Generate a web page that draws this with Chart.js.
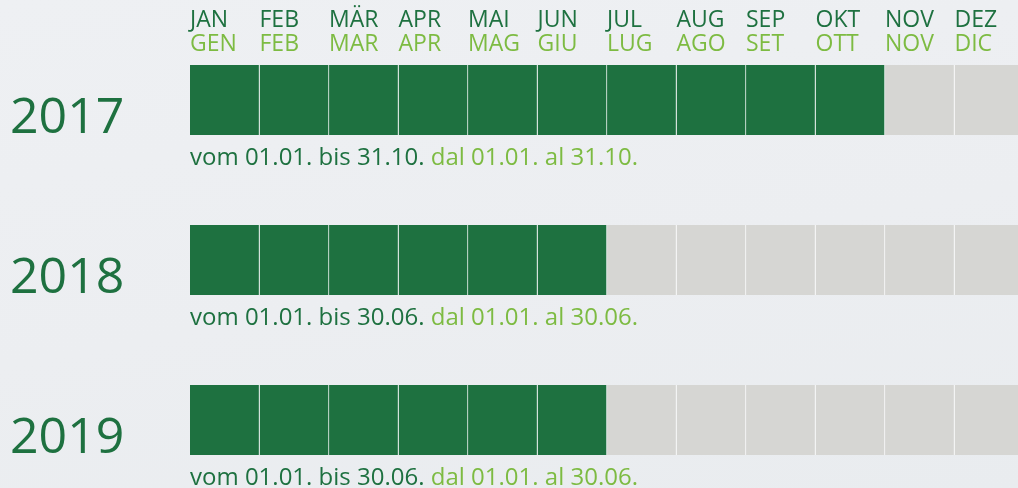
<!DOCTYPE html>
<html>
<head>
<meta charset="utf-8">
<script src="https://cdn.jsdelivr.net/npm/chart.js@4"></script>
<style>
html, body { margin:0; padding:0; width:1018px; height:488px; overflow:hidden; }
body { background: linear-gradient(170deg, #eef0f3 0%, #eceef1 55%, #e9ecef 100%); }
#wrap { width:1070px; height:488px; }
</style>
</head>
<body>
<div id="wrap"><canvas id="chart" width="1070" height="488"></canvas></div>
<script>
// ---- data ----
const years = ["2017", "2018", "2019"];
const monthsDe = ["JAN","FEB","MÄR","APR","MAI","JUN","JUL","AUG","SEP","OKT","NOV","DEZ"];
const monthsIt = ["GEN","FEB","MAR","APR","MAG","GIU","LUG","AGO","SET","OTT","NOV","DIC"];
const activeMonths = [10, 6, 6];   // months covered in each year
const rangeDe = ["vom 01.01. bis 31.10.", "vom 01.01. bis 30.06.", "vom 01.01. bis 30.06."];
const rangeIt = ["dal 01.01. al 31.10.", "dal 01.01. al 30.06.", "dal 01.01. al 30.06."];

// ---- style ----
const GREEN = "#1e7140";
const LIGHT = "#7dbb42";
const GREY = "#d6d6d3";
const FONT = "'Open Sans', sans-serif";

// one dataset per month, each cell is one month wide
const datasets = monthsDe.map((m, k) => ({
  label: m,
  data: years.map(() => 1),
  backgroundColor: years.map((y, i) => k < activeMonths[i] ? GREEN : GREY),
  borderColor: "rgba(255,255,255,0.85)",
  borderWidth: { left: 0, right: 1, top: 0, bottom: 0 },
  borderSkipped: false,
  barThickness: 70,
  clip: false,
  xAxisID: "x",
  yAxisID: "y"
}));

/* text under each row */
const rangeText = {
  id: "rangeText",
  afterDatasetsDraw(chart) {
    const { ctx, chartArea, scales: { y } } = chart;
    ctx.save();
    ctx.font = "24px " + FONT;
    ctx.textBaseline = "alphabetic";
    ctx.textAlign = "left";
    years.forEach((yr, i) => {
      const yy = y.getPixelForValue(i) + 65;
      ctx.fillStyle = GREEN;
      ctx.fillText(rangeDe[i], chartArea.left, yy);
      const w = ctx.measureText(rangeDe[i] + " ").width;
      ctx.fillStyle = LIGHT;
      ctx.fillText(rangeIt[i], chartArea.left + w, yy);
    });
    ctx.restore();
  }
};

const monthAxis = (names, color, pad, h, weight) => ({
  type: "linear",
  position: "top",
  stacked: true,
  min: 0,
  max: 12,
  weight: weight,
  grid: { display: false, drawTicks: false },
  border: { display: false },
  ticks: {
    stepSize: 1,
    maxTicksLimit: 13,
    autoSkip: false,
    maxRotation: 0,
    align: "start",
    padding: pad,
    color: color,
    font: { family: FONT, size: 23, lineHeight: 1 },
    callback: v => names[v] ?? ""
  },
  afterFit: s => { s.height = h; }
});

new Chart(document.getElementById("chart"), {
  type: "bar",
  data: { labels: years, datasets: datasets },
  options: {
    indexAxis: "y",
    responsive: false,
    animation: false,
    layout: { padding: { left: 10, right: 46, top: 0, bottom: 68 } },
    plugins: { legend: { display: false }, tooltip: { enabled: false } },
    scales: {
      x: monthAxis(monthsDe, GREEN, 0, 32, 1),
      xIt: monthAxis(monthsIt, LIGHT, 44.5, 68, 0),
      y: {
        type: "category",
        stacked: true,
        offset: false,
        grid: { display: false, drawTicks: false },
        border: { display: false },
        ticks: {
          crossAlign: "far",
          padding: 0,
          color: GREEN,
          font: { family: FONT, size: 50, lineHeight: "38px" },
          callback: (v, i) => ["", years[i]]
        },
        afterFit: s => { s.width = 180; }
      }
    }
  },
  plugins: [rangeText]
});
</script>
</body>
</html>
